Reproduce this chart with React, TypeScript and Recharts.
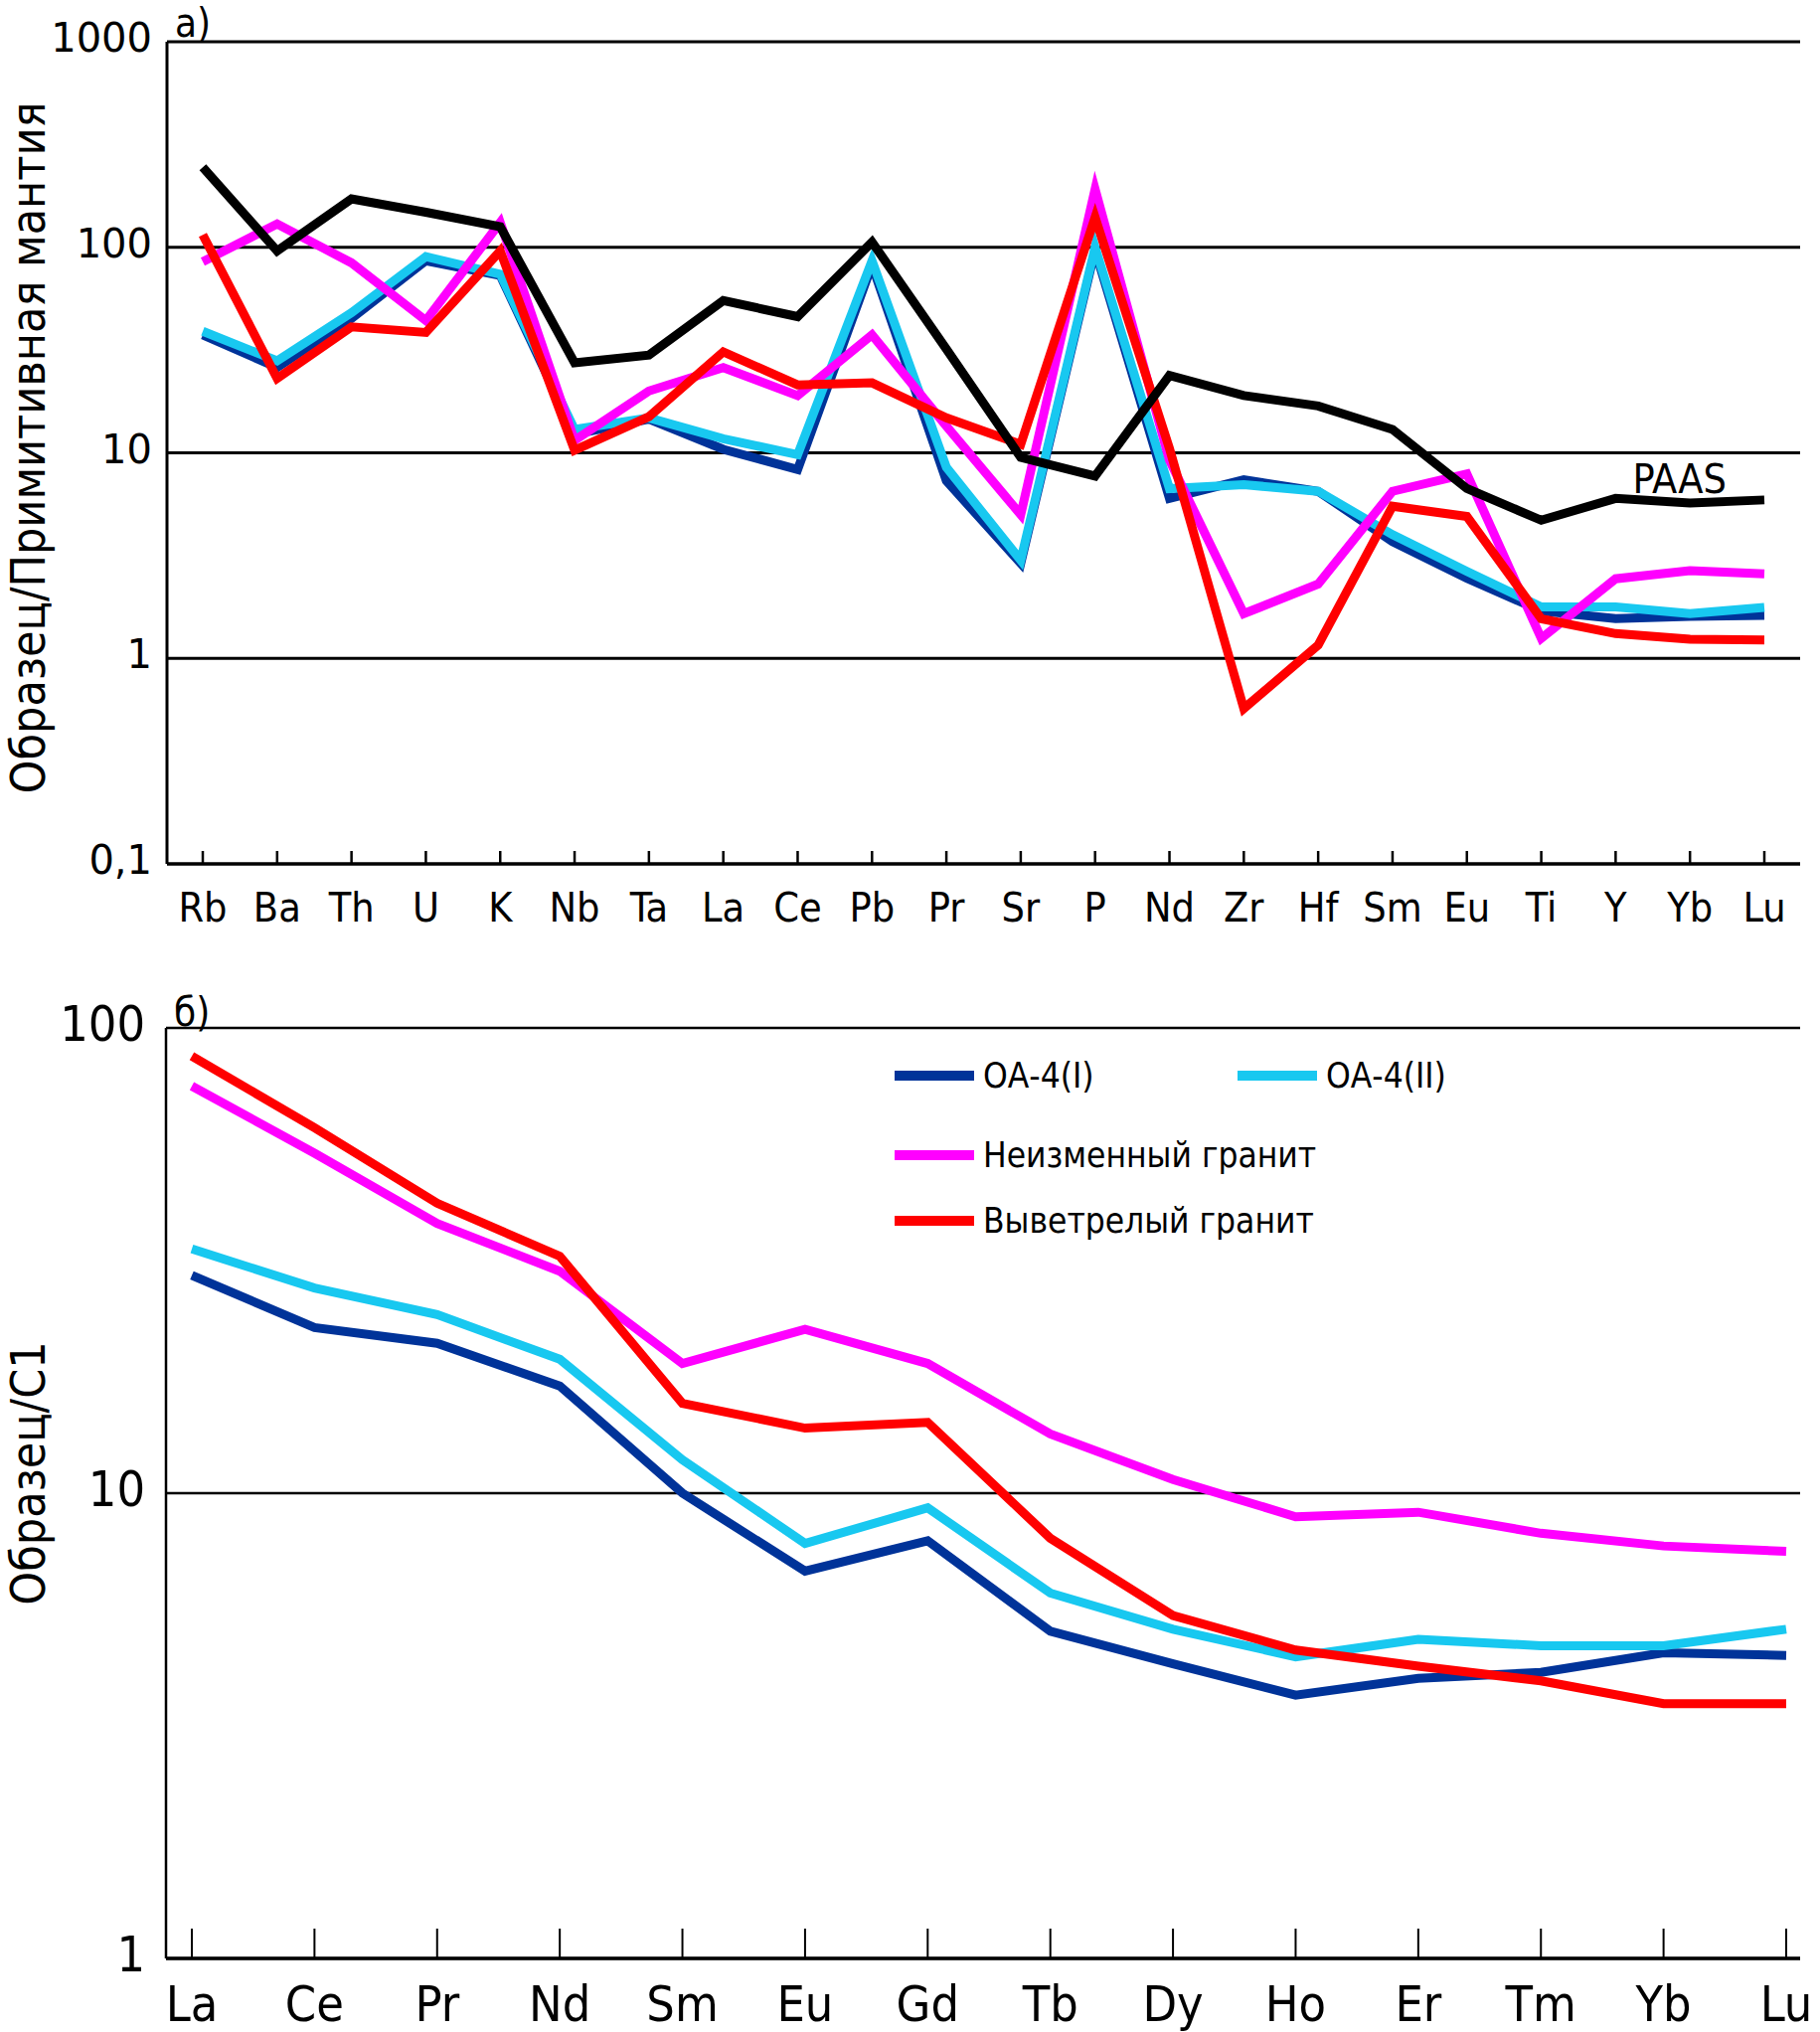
import React from "react";
import {
  LineChart,
  Line,
  XAxis,
  YAxis,
  CartesianGrid,
  Legend,
  Label,
  LabelList,
} from "recharts";

// Multi-element spider diagram, normalised to primitive mantle
const spiderElements = [
  "Rb", "Ba", "Th", "U", "K", "Nb", "Ta", "La", "Ce", "Pb", "Pr",
  "Sr", "P", "Nd", "Zr", "Hf", "Sm", "Eu", "Ti", "Y", "Yb", "Lu",
];
const spiderPaas = [
  245, 96, 172, 148, 126, 27.4, 29.9, 55, 46, 106, 32,
  9.5, 7.7, 23.8, 19, 16.9, 13, 6.7, 4.7, 6.0, 5.7, 5.9,
];
const spiderOa4i = [
  37.5, 26, 45, 86, 73, 12.3, 14.6, 10.4, 8.3, 82, 7.3,
  2.9, 97, 6.0, 7.4, 6.5, 3.7, 2.45, 1.7, 1.56, 1.6, 1.62,
];
const spiderOa4ii = [
  39, 28, 48, 90, 74, 13, 14.8, 11.7, 9.8, 86, 8.5,
  3.0, 100, 6.7, 7.0, 6.5, 4.0, 2.65, 1.78, 1.78, 1.65, 1.77,
];
const spiderFresh = [
  85, 130, 84, 44, 132, 11.5, 20, 26, 19, 37.5, 13.5,
  5.0, 192, 9.2, 1.65, 2.3, 6.5, 7.9, 1.25, 2.44, 2.67, 2.58,
];
const spiderWeathered = [
  115, 23, 41, 38.5, 96, 10.3, 15, 31, 21.4, 21.9, 14.8,
  11, 140, 10.5, 0.57, 1.16, 5.5, 4.9, 1.56, 1.32, 1.24, 1.23,
];
const spiderTicks = [0.1, 1, 10, 100, 1000];

// REE pattern, chondrite (C1) normalised
const reeElements = [
  "La", "Ce", "Pr", "Nd", "Sm", "Eu", "Gd", "Tb", "Dy", "Ho", "Er", "Tm", "Yb", "Lu",
];
const reeOa4i = [29.4, 22.7, 21, 17, 10, 6.8, 7.9, 5.05, 4.3, 3.68, 4.0, 4.12, 4.54, 4.48];
const reeOa4ii = [33.5, 27.6, 24.2, 19.4, 11.8, 7.8, 9.3, 6.1, 5.1, 4.45, 4.85, 4.7, 4.7, 5.1];
const reeFresh = [75, 53.8, 38, 30, 19, 22.5, 19, 13.4, 10.7, 8.9, 9.1, 8.2, 7.7, 7.5];
const reeWeathered = [87, 61, 42, 32.3, 15.6, 13.8, 14.2, 8.0, 5.46, 4.6, 4.25, 3.95, 3.53, 3.53];
const reeTicks = [1, 10, 100];

const NAVY = "#003399";
const CYAN = "#18C8F0";
const MAGENTA = "#FF00FF";
const RED = "#FF0000";

const WIDE = "'DejaVu Sans', Verdana, sans-serif";
const COND = "'DejaVu Sans Condensed', 'DejaVu Sans', sans-serif";
const NARROW = "'Liberation Sans Narrow', 'DejaVu Sans Condensed', sans-serif";

const spiderData = spiderElements.map((el, i) => ({
  el,
  paas: spiderPaas[i],
  oa1: spiderOa4i[i],
  oa2: spiderOa4ii[i],
  fresh: spiderFresh[i],
  weathered: spiderWeathered[i],
}));

const reeData = reeElements.map((el, i) => ({
  el,
  oa1: reeOa4i[i],
  oa2: reeOa4ii[i],
  fresh: reeFresh[i],
  weathered: reeWeathered[i],
}));

const fmt = (v: number) => String(v).replace(".", ",");

// x ticks: short mark pointing into the plot, label below the axis
const makeXTick =
  (len: number, width: number, gap: number, font: string, size: number) =>
  (props: any) => {
    const { x, y, payload } = props;
    return (
      <g>
        <line x1={x} x2={x} y1={y} y2={y - len} stroke="#000" strokeWidth={width} />
        <text x={x} y={y + gap} textAnchor="middle" fontFamily={font} fontSize={size} fill="#000">
          {payload.value}
        </text>
      </g>
    );
  };

const makeYTick = (dy: number, font: string, size: number) => (props: any) => {
  const { x, y, payload } = props;
  return (
    <text x={x} y={y + dy} textAnchor="end" fontFamily={font} fontSize={size} fill="#000">
      {fmt(payload.value)}
    </text>
  );
};

const makeTitle =
  (title: string, panel: string, shift: number, panelFont: string, panelDy: number) =>
  (props: any) => {
    const vb = props.viewBox || { x: 0, y: 0, width: 168, height: 800 };
    const cy = vb.y + vb.height / 2 + shift;
    return (
      <g>
        <text
          x={45}
          y={cy}
          transform={`rotate(-90 45 ${cy})`}
          textAnchor="middle"
          fontFamily={COND}
          fontSize={48}
          fill="#000"
        >
          {title}
        </text>
        <text x={vb.x + vb.width + 8} y={vb.y + panelDy} fontFamily={panelFont} fontSize={40} fill="#000">
          {panel}
        </text>
      </g>
    );
  };

const PaasLabel = (props: any) => {
  const { x, y, index } = props;
  if (spiderElements[index] !== "Y") return null;
  return (
    <text x={x + 17} y={y - 5} fontFamily={COND} fontSize={41} fill="#000">
      PAAS
    </text>
  );
};

// legend: two samples on the first row, granites below
const legendSlots: Record<string, { left: number; top: number }> = {
  oa1: { left: 0, top: 0 },
  oa2: { left: 345, top: 0 },
  fresh: { left: 0, top: 80 },
  weathered: { left: 0, top: 146 },
};

const renderLegend = (props: any) => {
  const payload = props.payload || [];
  return (
    <div style={{ position: "relative", width: 600, height: 200 }}>
      {payload.map((entry: any) => {
        const slot = legendSlots[entry.dataKey] || { left: 0, top: 0 };
        return (
          <div
            key={entry.dataKey}
            style={{
              position: "absolute",
              left: slot.left,
              top: slot.top,
              height: 44,
              display: "flex",
              alignItems: "center",
              whiteSpace: "nowrap",
            }}
          >
            <span style={{ width: 80, height: 10, background: entry.color, display: "inline-block" }} />
            <span style={{ marginLeft: 9, fontFamily: COND, fontSize: 35, color: "#000" }}>{entry.value}</span>
          </div>
        );
      })}
    </div>
  );
};

const lineProps = {
  type: "linear" as const,
  dot: false,
  activeDot: false,
  strokeWidth: 9,
  strokeLinejoin: "miter" as const,
  strokeMiterlimit: 10,
  isAnimationActive: false,
};

const SpiderChart = () => (
  <LineChart width={1831} height={960} data={spiderData} margin={{ top: 42, right: 20, bottom: 0, left: 0 }}>
    <CartesianGrid vertical={false} stroke="#000" strokeWidth={3} />
    <XAxis
      dataKey="el"
      height={91}
      interval={0}
      padding={{ left: 36, right: 36 }}
      tickSize={0}
      tickMargin={0}
      tickLine={false}
      axisLine={{ stroke: "#000", strokeWidth: 3 }}
      tick={makeXTick(13, 2.5, 58, COND, 41)}
    />
    <YAxis
      width={168}
      type="number"
      scale="log"
      domain={[0.1, 1000]}
      ticks={spiderTicks}
      allowDataOverflow
      interval={0}
      tickSize={0}
      tickMargin={15}
      tickLine={false}
      axisLine={{ stroke: "#000", strokeWidth: 3 }}
      tick={makeYTick(10, WIDE, 40)}
    >
      <Label content={makeTitle("Образец/Примитивная мантия", "а)", -5, COND, -5)} />
    </YAxis>
    <YAxis
      yAxisId="edge"
      orientation="right"
      width={0}
      domain={[0, 1]}
      tick={false}
      tickLine={false}
      axisLine={{ stroke: "#000", strokeWidth: 3 }}
    />
    <Line {...lineProps} dataKey="oa1" stroke={NAVY} />
    <Line {...lineProps} dataKey="oa2" stroke={CYAN} />
    <Line {...lineProps} dataKey="fresh" stroke={MAGENTA} />
    <Line {...lineProps} dataKey="weathered" stroke={RED} />
    <Line {...lineProps} dataKey="paas" stroke="#000">
      <LabelList dataKey="paas" content={<PaasLabel />} />
    </Line>
  </LineChart>
);

const ReeChart = () => (
  <LineChart width={1831} height={1084} data={reeData} margin={{ top: 74, right: 20, bottom: 0, left: 0 }}>
    <CartesianGrid vertical={false} stroke="#000" strokeWidth={2.7} />
    <XAxis
      dataKey="el"
      height={74}
      interval={0}
      padding={{ left: 26, right: 14 }}
      tickSize={0}
      tickMargin={0}
      tickLine={false}
      axisLine={{ stroke: "#000", strokeWidth: 3.5 }}
      tick={makeXTick(30, 2, 63, NARROW, 50)}
    />
    <YAxis
      width={167}
      type="number"
      scale="log"
      domain={[1, 100]}
      ticks={reeTicks}
      allowDataOverflow
      interval={0}
      tickSize={0}
      tickMargin={21}
      tickLine={false}
      axisLine={{ stroke: "#000", strokeWidth: 2.5 }}
      tick={makeYTick(13, NARROW, 50)}
    >
      <Label content={makeTitle("Образец/С1", "б)", -20, NARROW, -2)} />
    </YAxis>
    <YAxis
      yAxisId="edge"
      orientation="right"
      width={0}
      domain={[0, 1]}
      tick={false}
      tickLine={false}
      axisLine={{ stroke: "#000", strokeWidth: 2.5 }}
    />
    <Legend
      layout="horizontal"
      verticalAlign="middle"
      align="center"
      content={renderLegend}
      wrapperStyle={{ left: 900, top: 100, width: 600, height: 200 }}
    />
    <Line {...lineProps} dataKey="oa1" name="ОА-4(I)" stroke={NAVY} />
    <Line {...lineProps} dataKey="oa2" name="ОА-4(II)" stroke={CYAN} />
    <Line {...lineProps} dataKey="fresh" name="Неизменный гранит" stroke={MAGENTA} />
    <Line {...lineProps} dataKey="weathered" name="Выветрелый гранит" stroke={RED} />
  </LineChart>
);

export default function App() {
  return (
    <div style={{ position: "absolute", left: 0, top: 0, width: 1831, height: 2044, background: "#fff" }}>
      <SpiderChart />
      <ReeChart />
    </div>
  );
}
